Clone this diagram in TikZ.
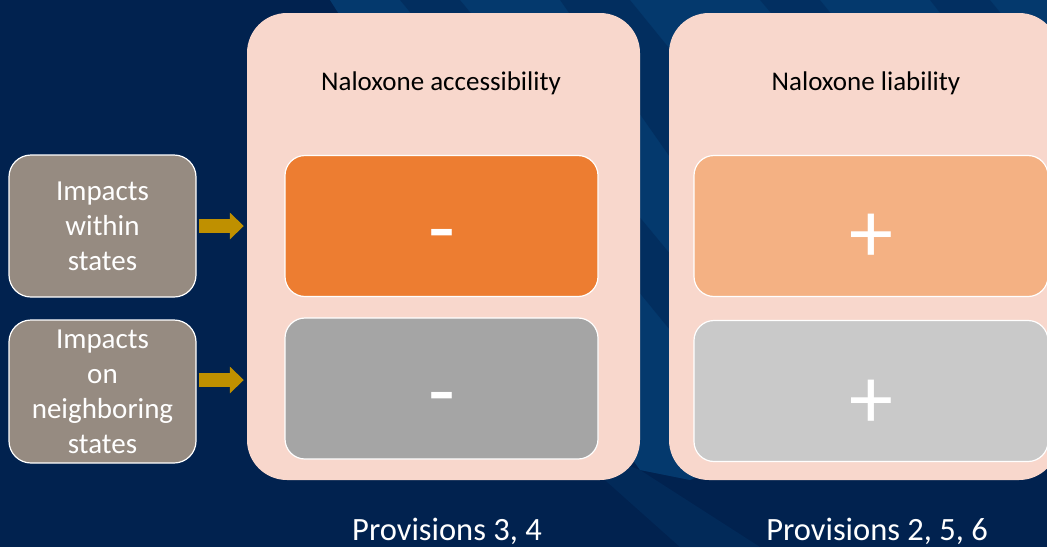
\documentclass[tikz,border=0pt]{standalone}
\usepackage{fontspec}
\setmainfont{Carlito}
\usetikzlibrary{arrows.meta}
\definecolor{bgnavy}{HTML}{01224F}
\definecolor{bgblue}{HTML}{04396D}
\definecolor{panelpink}{HTML}{F8D7CC}
\definecolor{boxorange}{HTML}{ED7D31}
\definecolor{boxlorange}{HTML}{F4B183}
\definecolor{boxgray}{HTML}{A5A5A5}
\definecolor{boxlgray}{HTML}{C9C9C9}
\definecolor{boxtaupe}{HTML}{968B81}
\definecolor{arrowgold}{HTML}{BF9000}
\tikzset{
  panelbox/.style={fill=panelpink, draw=none, rounded corners=40pt, inner sep=0pt},
  effectbox/.style={draw=white, line width=1.2pt, rounded corners=20pt, inner sep=0pt,
    minimum width=313pt, minimum height=141pt},
  impactbox/.style={fill=boxtaupe, draw=white, line width=1.2pt, rounded corners=22pt,
    inner sep=0pt, minimum width=187pt, minimum height=142pt, text=white,
    align=center, font=\fontsize{29}{35}\selectfont},
  titletext/.style={text=black, font=\fontsize{27}{32}\selectfont, inner sep=0pt},
  provtext/.style={text=white, font=\fontsize{32.5}{38}\selectfont, inner sep=0pt},
  signtext/.style={text=white, font=\fontsize{88}{90}\selectfont, inner sep=0pt},
  blockarrow/.style={draw=arrowgold, line width=14pt,
    -{Triangle[width=26pt,length=14pt]}, shorten <=2pt, shorten >=3pt}
}
\begin{document}
\begin{tikzpicture}[x=1pt,y=-1pt]
\useasboundingbox (0,0) rectangle (1047,547);
% background
\fill[bgnavy] (0,0) rectangle (1047,547);
\begin{scope}
\clip (0,0) rectangle (1047,547);
\fill[bgblue] (330,0) -- (1047,0) -- (1047,330) -- (690,480) -- (640,470) -- (520,300) -- cycle;
\fill[bgnavy, opacity=0.45] (400,0) -- (460,0) -- (700,290) -- (670,330) -- cycle;
\fill[bgnavy, opacity=0.45] (560,0) -- (630,0) -- (760,160) -- (700,200) -- cycle;
\fill[bgnavy, opacity=0.4] (760,0) -- (820,0) -- (1047,280) -- (1047,340) -- cycle;
\fill[bgnavy, opacity=0.4] (930,0) -- (990,0) -- (1047,70) -- (1047,150) -- cycle;
\fill[bgblue, opacity=0.35] (560,440) -- (640,470) -- (760,547) -- (680,547) -- cycle;
\end{scope}
% panels
\node[panelbox, minimum width=393pt, minimum height=467pt] (panelA) at (443.5,246.5) {};
\node[panelbox, minimum width=390pt, minimum height=467pt] (panelB) at (864,246.5) {};
% titles
\node[titletext] (titleA) at (441,83) {Naloxone accessibility};
\node[titletext] (titleB) at (866,83) {Naloxone liability};
% effect boxes
\node[effectbox, fill=boxorange] (accIn) at (441.5,226) {};
\node[effectbox, fill=boxgray] (accNb) at (441.5,388.5) {};
\node[effectbox, fill=boxlorange, minimum width=354pt] (liaIn) at (871,226) {};
\node[effectbox, fill=boxlgray, minimum width=354pt] (liaNb) at (871,391) {};
% signs
\node[signtext] (signA1) at ([yshift=-17pt]accIn.center) {-};
\node[signtext] (signA2) at ([yshift=-18pt]accNb.center) {-};
\node[signtext] (signB1) at ([yshift=-12pt]liaIn.center) {+};
\node[signtext] (signB2) at ([yshift=-13pt]liaNb.center) {+};
% impact boxes
\node[impactbox] (impIn) at (102.5,226) {Impacts\\within\\states};
\node[impactbox, minimum height=143pt] (impNb) at (102.5,391.5) {Impacts\\on\\neighboring\\states};
% arrows
\draw[blockarrow] (impIn.east) -- (impIn.east -| panelA.west);
\draw[blockarrow] (impNb.east |- 0,380) -- (panelA.west |- 0,380);
% provisions
\node[provtext, anchor=base] (provA) at (447,540) {Provisions 3, 4};
\node[provtext, anchor=base] (provB) at (877,540) {Provisions 2, 5, 6};
\end{tikzpicture}
\end{document}
